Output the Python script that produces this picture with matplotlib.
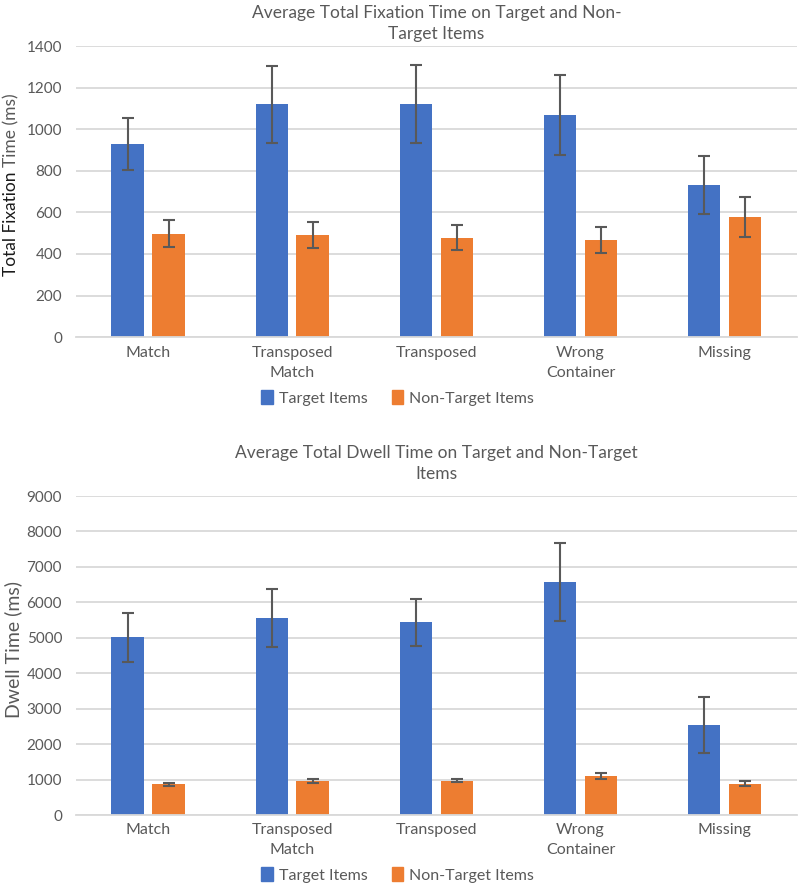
import numpy as np
import matplotlib
matplotlib.use('Agg')
import matplotlib.pyplot as plt
import matplotlib.patches as mpatches

categories = ['Match', 'Transposed\nMatch', 'Transposed', 'Wrong\nContainer', 'Missing']

fix_target = [930, 1120, 1123, 1070, 730]
fix_target_err = [125, 185, 188, 192, 140]
fix_nontarget = [498, 492, 478, 468, 578]
fix_nontarget_err = [65, 64, 60, 63, 97]

dwell_target = [5020, 5565, 5440, 6575, 2550]
dwell_target_err = [690, 820, 660, 1100, 790]
dwell_nontarget = [870, 950, 975, 1110, 890]
dwell_nontarget_err = [40, 55, 35, 80, 60]

BLUE = '#4472C4'
ORANGE = '#ED7D31'
GRID = '#D9D9D9'
TEXT = '#595959'
ERR = '#595959'

plt.rcParams['font.family'] = ['Lato', 'DejaVu Sans']


def draw_chart(fig, ax, title, title_pad, ymax, ystep, target, target_err,
               nontarget, nontarget_err, legend_y):
    x = np.arange(len(categories))
    w = 0.225
    off = 0.142
    ax.bar(x - off, target, w, color=BLUE, zorder=2)
    ax.bar(x + off, nontarget, w, color=ORANGE, zorder=2)
    ax.errorbar(x - off, target, yerr=target_err, fmt='none', ecolor=ERR,
                elinewidth=1.5, capsize=4, capthick=1.5, zorder=3)
    ax.errorbar(x + off, nontarget, yerr=nontarget_err, fmt='none', ecolor=ERR,
                elinewidth=1.5, capsize=4, capthick=1.5, zorder=3)
    ax.set_xlim(-0.5, len(categories) - 0.5)
    ax.set_ylim(0, ymax)
    ax.set_yticks(np.arange(0, ymax + 1, ystep))
    ax.set_xticks(x)
    ax.set_xticklabels(categories, fontsize=11.5, color=TEXT, linespacing=1.55)
    ax.tick_params(axis='y', labelsize=11, labelcolor=TEXT, length=0, pad=10)
    ax.tick_params(axis='x', length=0, pad=6)
    ax.grid(axis='y', color=GRID, linewidth=1.3, zorder=0)
    for s in ['top', 'right', 'left']:
        ax.spines[s].set_visible(False)
    ax.spines['bottom'].set_color(GRID)
    ax.spines['bottom'].set_linewidth(1.3)
    ax.set_title(title, fontsize=12.5, color=TEXT, pad=title_pad, linespacing=1.4)
    handles = [mpatches.Patch(color=BLUE, label='Target Items'),
               mpatches.Patch(color=ORANGE, label='Non-Target Items')]
    leg = fig.legend(handles=handles, loc='center', bbox_to_anchor=(0.497, legend_y),
                     ncol=2, frameon=False, fontsize=11.5, handlelength=0.75,
                     handleheight=0.95, handletextpad=0.35, columnspacing=1.5)
    for t in leg.get_texts():
        t.set_color(TEXT)


fig = plt.figure(figsize=(8, 8.85), dpi=100)
ax1 = fig.add_axes([0.095, 0.619, 0.901, 0.329])
ax2 = fig.add_axes([0.095, 0.079, 0.901, 0.3605])

draw_chart(fig, ax1, 'Average Total Fixation Time on Target and Non-\nTarget Items', 5,
           1400, 200, fix_target, fix_target_err, fix_nontarget, fix_nontarget_err,
           1 - 398 / 885)
draw_chart(fig, ax2, 'Average Total Dwell Time on Target and Non-Target\nItems', 12,
           9000, 1000, dwell_target, dwell_target_err, dwell_nontarget, dwell_nontarget_err,
           1 - 875 / 885)

# y labels: top one has a darker first part
fig.canvas.draw()
renderer = fig.canvas.get_renderer()
lab1 = fig.text(0.014, 1 - 276 / 885, 'Total Fixation ', rotation=90, ha='center',
                va='bottom', fontsize=12.5, color='#1a1a1a')
ext = lab1.get_window_extent(renderer)
y_next = fig.transFigure.inverted().transform((0, ext.y1))[1]
fig.text(0.014, y_next, 'Time (ms)', rotation=90, ha='center', va='bottom',
         fontsize=12.5, color=TEXT)
fig.text(0.016, 1 - 650 / 885, 'Dwell Time (ms)', rotation=90, ha='center',
         va='center', fontsize=14, color=TEXT)

fig.savefig('out.png', dpi=100)
